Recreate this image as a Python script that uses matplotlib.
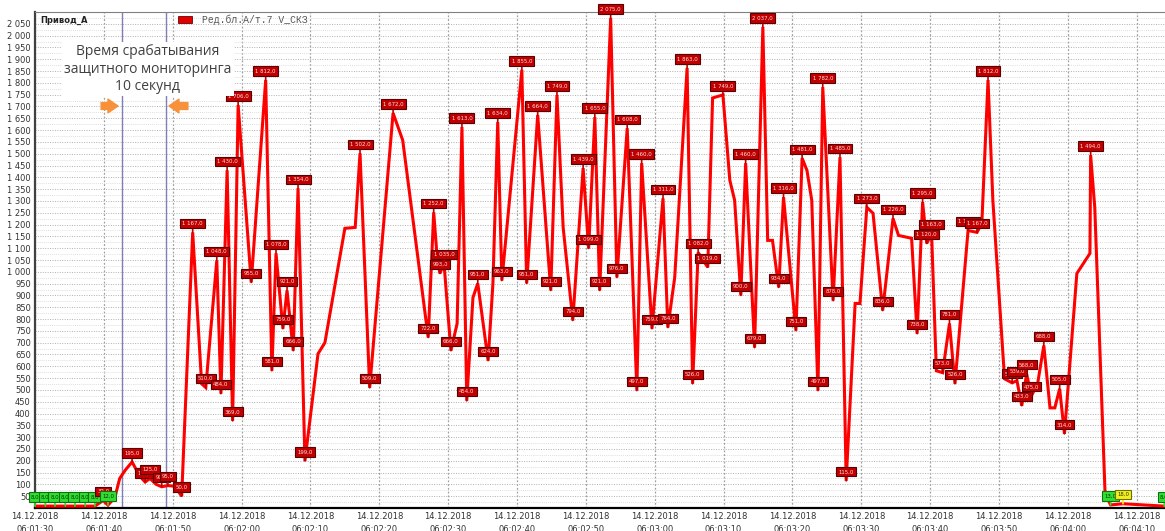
import matplotlib
matplotlib.use('Agg')
import matplotlib.pyplot as plt
import matplotlib.dates as mdates
from matplotlib.ticker import FuncFormatter, MultipleLocator
from datetime import datetime, timedelta

sec = [0.0, 1.5, 2.9, 4.4, 5.8, 7.3, 8.7, 9.9, 10.6, 11.6, 12.3, 13.1, 14.1,
       15.2, 16.0, 16.7, 17.6, 18.4, 19.3, 20.3, 21.3, 22.9, 24.2, 24.8,
       26.4, 27.0, 27.9, 28.7, 29.5, 31.4, 33.5, 34.4, 35.0, 36.0, 36.6,
       37.5, 38.2, 39.2, 41.1, 42.1, 45.0, 46.5, 47.2, 48.6, 52.0, 53.4,
       57.1, 57.9, 58.4, 58.8, 59.4, 60.4, 61.3, 62.0, 62.7, 63.6, 64.3,
       65.8, 66.5, 67.2, 67.8, 70.7, 71.4, 73.0, 74.9, 75.8, 76.7, 78.1,
       79.6, 80.4, 81.3, 82.0, 83.6, 84.5, 86.0, 87.4, 88.1, 89.6, 91.2,
       91.9, 92.9, 94.7, 95.5, 96.3, 97.7, 98.4, 99.9, 100.9, 101.6, 102.5,
       103.2, 104.5, 105.7, 106.4, 107.1, 108.0, 108.7, 110.5, 111.4, 112.1,
       112.8, 113.7, 114.4, 115.9, 116.9, 117.8, 119.1, 119.8, 120.8, 121.7,
       123.1, 124.6, 125.4, 127.3, 128.1, 128.9, 129.5, 130.2, 130.9, 131.8,
       132.8, 133.6, 135.5, 136.8, 137.5, 138.4, 139.1, 140.8, 141.9, 142.6,
       143.3, 144.0, 144.7, 145.6, 146.5, 147.4, 148.1, 148.8, 149.5, 151.3,
       153.2, 153.3, 153.9, 155.4, 156.2, 158.0, 164.0]
val = [8, 8, 8, 8, 8, 8, 8, 32, 12, 45, 125, 160, 195,
       135, 110, 125, 100, 90, 95, 92, 50, 1167, 526, 510,
       1048, 484, 1430, 369, 1706, 955, 1812, 581, 1078, 759, 921,
       666, 1354, 199, 653, 700, 1184, 1188, 1502, 509, 1672, 1557,
       722, 1252, 1061, 993, 1035, 666, 781, 1613, 454, 891, 951,
       624, 951, 1634, 963, 1855, 951, 1664, 921, 1749, 1188, 794,
       1439, 1099, 1655, 921, 2075, 976, 1608, 497, 1460, 759, 1311,
       764, 976, 1863, 526, 1082, 1019, 1736, 1749, 1388, 1303, 900,
       1460, 679, 2037, 1133, 1133, 934, 1316, 751, 1481, 1430,
       1303, 497, 1782, 878, 1485, 115, 866, 866, 1273, 1248,
       836, 1226, 1154, 1142, 738, 1295, 1120, 1163, 581, 573,
       781, 526, 1175, 1167, 1205, 1812, 1303, 547, 530, 539,
       433, 568, 475, 526, 688, 424, 424, 505, 314, 993,
       1078, 1494, 1273, 59, 13, 18, 8]

start = datetime(2018, 12, 14, 6, 1, 30)
times = [start + timedelta(seconds=s) for s in sec]
t_end = start + timedelta(seconds=164.1)
# the two blue markers of the 10 s window
mark_a = start + timedelta(seconds=12.6)
mark_b = start + timedelta(seconds=19.0)


def fmt_val(v):
    return f"{v:,.1f}".replace(",", " ").replace(".", ",")


fig = plt.figure(figsize=(11.65, 5.31), dpi=100)
ax = fig.add_axes([35/1165, 1 - 508/531, 1 - 35/1165, (508 - 12)/531])

ax.plot(times, val, color='#ff0000', lw=2.2, zorder=3, solid_joinstyle='miter')

ax.axvline(mark_a, color='#7f7fb5', lw=1, zorder=2)
ax.axvline(mark_b, color='#7f7fb5', lw=1, zorder=2)

ax.set_xlim(start, t_end)
ax.set_ylim(0, 2100)

ax.xaxis.set_major_locator(mdates.SecondLocator(bysecond=range(0, 60, 10)))
ax.xaxis.set_major_formatter(mdates.DateFormatter('%d.%m.%Y\n%H:%M:%S'))
ax.yaxis.set_major_locator(MultipleLocator(50))
ax.yaxis.set_minor_locator(MultipleLocator(25))
ax.yaxis.set_major_formatter(FuncFormatter(
    lambda v, p: '' if v <= 0 or v > 2050 else f"{int(v):,}".replace(",", " ")))

for lab in ax.get_xticklabels():
    lab.set_linespacing(1.5)
ax.tick_params(axis='x', labelsize=6, length=0, pad=3, colors='#333333')
ax.tick_params(axis='y', labelsize=6, length=0, pad=3, colors='#333333')
ax.tick_params(axis='y', which='minor', length=0)

ax.grid(axis='y', which='major', color='#b0b0b0', ls=(0, (1, 1.5)), lw=0.7)
ax.grid(axis='y', which='minor', color='#d4d4d4', ls=(0, (1, 1.5)), lw=0.6)
ax.grid(axis='x', which='major', color='#a0a0a0', ls=(0, (1.5, 1.5)), lw=0.9)
ax.set_axisbelow(True)

ax.spines['right'].set_visible(False)
ax.spines['top'].set_color('#808080')
ax.spines['top'].set_linewidth(0.8)
ax.spines['left'].set_color('#404040')
ax.spines['left'].set_linewidth(1.6)
ax.spines['bottom'].set_color('#000000')
ax.spines['bottom'].set_linewidth(1.6)

# value callouts on the extremes of the trend
n = len(val)
for i in range(n):
    v = val[i]
    left = val[i - 1] if i > 0 else None
    right = val[i + 1] if i < n - 1 else None
    is_ext = (left is not None and right is not None and
              ((v > left and v > right) or (v < left and v < right)))
    if not (is_ext or v < 25):
        continue
    if v >= 25:
        fc, ec, tc = '#c00000', '#5a0000', '#ffdede'
    elif v >= 15:
        fc, ec, tc = '#f0f020', '#707000', '#333300'
    else:
        fc, ec, tc = '#30e030', '#107010', '#0a300a'
    ax.annotate(fmt_val(v), (times[i], v), xytext=(0, 6.5), textcoords='offset points',
                ha='center', va='center', fontsize=3.9, color=tc, zorder=5,
                annotation_clip=False,
                bbox=dict(boxstyle='square,pad=0.4', fc=fc, ec=ec, lw=0.8),
                arrowprops=dict(arrowstyle='-', color=fc, lw=1.2, shrinkA=0, shrinkB=0))

# header and legend
fig.text(40/1165, 1 - 20/531, 'Привод_А', fontsize=6, fontweight='bold',
         color='#222222', va='center', ha='left')
fig.patches.append(plt.Rectangle((178/1165, 1 - 23/531), 14/1165, 7/531,
                                 transform=fig.transFigure, fc='#e00000', ec='#700000',
                                 lw=0.6, figure=fig))
fig.text(202/1165, 1 - 19.5/531, 'Ред.бл.А/т.7 V_СКЗ', fontsize=7,
         family=['Liberation Mono', 'DejaVu Sans Mono'], color='#555555',
         va='center', ha='left')

# note about the protective monitoring window
ax.text(start + timedelta(seconds=16.4), 1858,
        'Время срабатывания\nзащитного мониторинга\n10 секунд',
        ha='center', va='center', fontsize=10, color='#404040', zorder=6,
        family=['Open Sans', 'DejaVu Sans'],
        bbox=dict(boxstyle='square,pad=0.15', fc='white', ec='none'))

orange = '#f7923a'
arrow_y = 1702
ax.annotate('', xy=(mark_a - timedelta(seconds=0.55), arrow_y),
            xytext=(mark_a - timedelta(seconds=3.0), arrow_y),
            arrowprops=dict(arrowstyle='simple,head_length=0.8,head_width=1.1,tail_width=0.55',
                            color=orange, shrinkA=0, shrinkB=0, mutation_scale=9), zorder=6)
ax.annotate('', xy=(mark_b + timedelta(seconds=0.45), arrow_y),
            xytext=(mark_b + timedelta(seconds=3.2), arrow_y),
            arrowprops=dict(arrowstyle='simple,head_length=0.8,head_width=1.1,tail_width=0.55',
                            color=orange, shrinkA=0, shrinkB=0, mutation_scale=9), zorder=6)

fig.savefig('out.png', dpi=100)
